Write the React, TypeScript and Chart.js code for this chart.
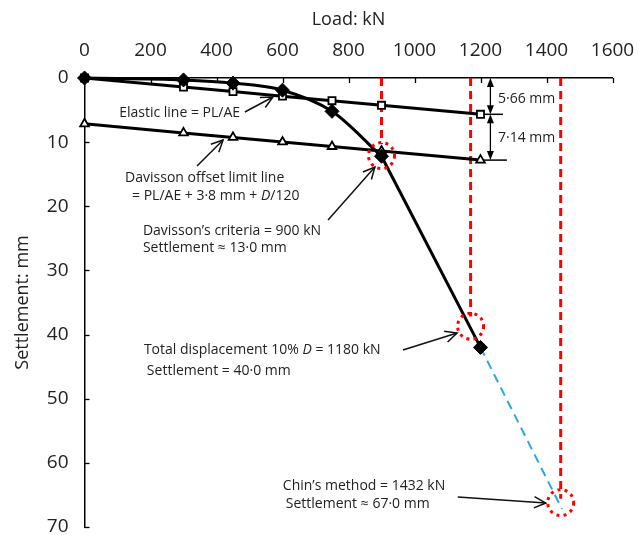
import { useEffect, useRef } from "react";
import { Chart, registerables } from "chart.js";

Chart.register(...registerables);

const FONT = '"Open Sans", "Noto Sans", sans-serif';

// ---- data ----
const loads = [0, 300, 450, 600, 750, 900, 1200];
const measuredSettlement = [0, 0.3, 0.8, 1.9, 5.2, 12.2, 42.0];
const elasticSettlement = [0, 1.42, 2.12, 2.83, 3.54, 4.25, 5.66];
const davissonSettlement = [7.14, 8.56, 9.26, 9.97, 10.68, 11.39, 12.8];
const chinLoads = [1200, 1447];
const chinSettlement = [42.0, 67.2];
const xTickValues = [0, 200, 400, 600, 800, 1000, 1200, 1400, 1600];
const yTickValues = [0, 10, 20, 30, 40, 50, 60, 70];
const criteriaLoads = [900, 1170, 1443];
const criteriaSettlement = [12.1, 38.7, 66.2];
const criteriaLineEnd = [10.3, 37.2, 65.6];
const dimensionLoad = 1230;
const dimensionLevels = [0, 5.66, 12.8];
const dimensionLineEnds = [1268, 1280];
const dimensionLabels = ["5·66 mm", "7·14 mm"];
const dimensionLabelPos = [
  [1253, 3.27],
  [1253, 9.35],
];

// annotation texts: [load, settlement] of left/middle, segments [text, italic]
type Seg = [string, boolean];
const notes: { at: [number, number]; parts: Seg[] }[] = [
  { at: [105, 5.41], parts: [["Elastic line = PL/AE", false]] },
  { at: [123, 15.59], parts: [["Davisson offset limit line", false]] },
  { at: [144, 18.4], parts: [["= PL/AE + 3·8 mm + ", false], ["D", true], ["/120", false]] },
  { at: [177, 23.85], parts: [["Davisson\u2019s criteria = 900 kN", false]] },
  { at: [177, 26.5], parts: [["Settlement \u2248 13·0 mm", false]] },
  { at: [180, 42.41], parts: [["Total displacement 10% ", false], ["D", true], [" = 1180 kN", false]] },
  { at: [189, 45.68], parts: [["Settlement = 40·0 mm", false]] },
  { at: [601, 63.61], parts: [["Chin\u2019s method = 1432 kN", false]] },
  { at: [610, 66.42], parts: [["Settlement \u2248 67·0 mm", false]] },
];

// arrows: [tailLoad, tailSettlement, headLoad, headSettlement]
const arrows = [
  [486, 5.3, 571, 2.96],
  [341, 13.72, 420, 9.67],
  [738, 22.14, 880, 13.88],
  [965, 42.41, 1129, 39.76],
  [1131, 65.33, 1398, 66.26],
];

const pts = (xs: number[], ys: number[]) => xs.map((x, i) => ({ x, y: ys[i] }));

const annotationPlugin = {
  id: "annotations",
  afterDatasetsDraw(chart: any) {
    const ctx: CanvasRenderingContext2D = chart.ctx;
    const xs = chart.scales.x;
    const ys = chart.scales.y;
    const px = (v: number) => xs.getPixelForValue(v);
    const py = (v: number) => ys.getPixelForValue(v);
    const area = chart.chartArea;
    ctx.save();

    // inner tick marks
    ctx.strokeStyle = "#000";
    ctx.lineWidth = 1.3;
    ctx.setLineDash([]);
    for (const v of xTickValues) {
      const x = Math.round(px(v)) + 0.5;
      ctx.beginPath();
      ctx.moveTo(x, area.top);
      ctx.lineTo(x, area.top + 5);
      ctx.stroke();
    }
    for (const v of yTickValues) {
      const y = Math.round(py(v)) + 0.5;
      ctx.beginPath();
      ctx.moveTo(area.left, y);
      ctx.lineTo(area.left + 5, y);
      ctx.stroke();
    }

    // dotted red circles
    ctx.strokeStyle = "#ff0000";
    ctx.lineWidth = 3;
    ctx.setLineDash([3, 4.2]);
    criteriaLoads.forEach((l, i) => {
      ctx.beginPath();
      ctx.arc(px(l), py(criteriaSettlement[i]), 13, 0, Math.PI * 2);
      ctx.stroke();
    });
    ctx.setLineDash([]);

    // dimension arrows
    ctx.strokeStyle = "#000";
    ctx.fillStyle = "#000";
    ctx.lineWidth = 1.3;
    const dx = px(dimensionLoad);
    const tri = (x: number, y: number, dir: number) => {
      ctx.beginPath();
      ctx.moveTo(x, y);
      ctx.lineTo(x - 3.5, y - dir * 9);
      ctx.lineTo(x + 3.5, y - dir * 9);
      ctx.closePath();
      ctx.fill();
    };
    for (let i = 0; i < dimensionLevels.length - 1; i++) {
      const y0 = py(dimensionLevels[i]);
      const y1 = py(dimensionLevels[i + 1]);
      ctx.beginPath();
      ctx.moveTo(dx, y0 + 4);
      ctx.lineTo(dx, y1 - 4);
      ctx.stroke();
      tri(dx, y0, -1);
      tri(dx, y1, 1);
    }

    // annotation arrows
    ctx.lineWidth = 1.5;
    ctx.strokeStyle = "#111";
    for (const [tx, ty, hx, hy] of arrows) {
      const x0 = px(tx), y0 = py(ty), x1 = px(hx), y1 = py(hy);
      const a = Math.atan2(y1 - y0, x1 - x0);
      ctx.beginPath();
      ctx.moveTo(x0, y0);
      ctx.lineTo(x1, y1);
      ctx.stroke();
      const L = 13, s = 0.45;
      ctx.beginPath();
      ctx.moveTo(x1 - L * Math.cos(a - s), y1 - L * Math.sin(a - s));
      ctx.lineTo(x1, y1);
      ctx.lineTo(x1 - L * Math.cos(a + s), y1 - L * Math.sin(a + s));
      ctx.stroke();
    }

    // texts
    ctx.fillStyle = "#222";
    ctx.textBaseline = "middle";
    ctx.textAlign = "left";
    for (const n of notes) {
      let cx = px(n.at[0]);
      const cy = py(n.at[1]);
      for (const [t, it] of n.parts) {
        ctx.font = `${it ? "italic " : ""}14px ${FONT}`;
        ctx.fillText(t, cx, cy);
        cx += ctx.measureText(t).width;
      }
    }
    ctx.font = `14px ${FONT}`;
    dimensionLabels.forEach((t, i) => {
      ctx.fillText(t, px(dimensionLabelPos[i][0]), py(dimensionLabelPos[i][1]));
    });

    ctx.restore();
  },
};

export default function App() {
  const ref = useRef<HTMLCanvasElement>(null);

  useEffect(() => {
    if (!ref.current) return;
    const redLines = criteriaLoads.map((l, i) => ({
      data: [
        { x: l, y: 0 },
        { x: l, y: criteriaLineEnd[i] },
      ],
      borderColor: "#ff0000",
      borderWidth: 3,
      borderDash: [8, 5],
      pointRadius: 0,
      fill: false,
      clip: false as any,
      order: 5,
    }));
    const dimLines = dimensionLineEnds.map((end, i) => ({
      data: [
        { x: 1200, y: dimensionLevels[i + 1] },
        { x: end, y: dimensionLevels[i + 1] },
      ],
      borderColor: "#000",
      borderWidth: 1.5,
      pointRadius: 0,
      fill: false,
      clip: false as any,
      order: 6,
    }));

    const curveEnd = 6; // points 0..900 curved, 900..1200 straight
    const chart = new Chart(ref.current, {
      type: "line",
      data: {
        datasets: [
          {
            data: pts(loads.slice(0, curveEnd), measuredSettlement.slice(0, curveEnd)),
            borderColor: "#000",
            borderWidth: 3,
            cubicInterpolationMode: "monotone",
            pointRadius: 0,
            clip: false as any,
            order: 2,
          },
          {
            data: pts(loads.slice(curveEnd - 1), measuredSettlement.slice(curveEnd - 1)),
            borderColor: "#000",
            borderWidth: 3,
            tension: 0,
            pointRadius: 0,
            clip: false as any,
            order: 2,
          },
          {
            data: pts(loads, measuredSettlement),
            showLine: false,
            pointStyle: "rectRot",
            pointRadius: 7,
            pointBackgroundColor: "#000",
            pointBorderColor: "#000",
            pointBorderWidth: 1,
            clip: false as any,
            order: 0,
          },
          {
            data: pts(loads, elasticSettlement),
            borderColor: "#000",
            borderWidth: 3,
            tension: 0,
            pointStyle: "rect",
            pointRadius: 5,
            pointBackgroundColor: "#fff",
            pointBorderColor: "#000",
            pointBorderWidth: 1.8,
            clip: false as any,
            order: 1,
          },
          {
            data: pts(loads, davissonSettlement),
            borderColor: "#000",
            borderWidth: 3,
            tension: 0,
            pointStyle: "triangle",
            pointRadius: 5,
            pointBackgroundColor: "#fff",
            pointBorderColor: "#000",
            pointBorderWidth: 1.8,
            clip: false as any,
            order: 3,
          },
          {
            data: pts(chinLoads, chinSettlement),
            borderColor: "#29a9e0",
            borderWidth: 2,
            borderDash: [9, 6],
            pointRadius: 0,
            clip: false as any,
            order: 4,
          },
          ...redLines,
          ...dimLines,
        ] as any,
      },
      options: {
        responsive: false,
        animation: false,
        layout: { padding: { left: 0, top: 0, right: 25.5, bottom: 8 } },
        plugins: {
          legend: { display: false },
          tooltip: { enabled: false },
        },
        scales: {
          x: {
            type: "linear",
            position: "top",
            min: 0,
            max: 1600,
            afterBuildTicks: (s: any) => {
              s.ticks = xTickValues.map((v) => ({ value: v }));
            },
            afterFit: (s: any) => {
              s.height = 78;
              s.paddingLeft = 0;
              s.paddingRight = 0;
              s.paddingTop = 0;
              s.paddingBottom = 0;
            },
            grid: { display: false },
            border: { display: true, color: "#000", width: 1.5 },
            ticks: {
              padding: 8,
              color: "#222",
              autoSkip: false,
              maxRotation: 0,
              font: { family: FONT, size: 19 },
              callback: (v: any) => String(v),
            },
            title: {
              display: true,
              text: "Load: kN",
              color: "#222",
              font: { family: FONT, size: 18 },
              padding: { top: 9, bottom: 0 },
            },
          },
          y: {
            type: "linear",
            reverse: true,
            min: 0,
            max: 70,
            afterBuildTicks: (s: any) => {
              s.ticks = yTickValues.map((v) => ({ value: v }));
            },
            afterFit: (s: any) => {
              s.width = 84.5;
              s.paddingLeft = 0;
              s.paddingRight = 0;
              s.paddingTop = 0;
              s.paddingBottom = 0;
            },
            grid: { display: false },
            border: { display: true, color: "#000", width: 1.5 },
            ticks: {
              padding: 8,
              color: "#222",
              font: { family: FONT, size: 19 },
              callback: (v: any) => String(v),
            },
            title: {
              display: true,
              text: "Settlement: mm",
              color: "#222",
              font: { family: FONT, size: 18 },
              padding: { top: 12, bottom: 0 },
            },
          },
        },
      } as any,
      plugins: [annotationPlugin],
    });
    return () => chart.destroy();
  }, []);

  return (
    <div style={{ position: "absolute", left: 0, top: 0, width: 638, height: 535, background: "#fff" }}>
      <canvas ref={ref} width={638} height={535} style={{ display: "block", width: 638, height: 535 }} />
    </div>
  );
}
